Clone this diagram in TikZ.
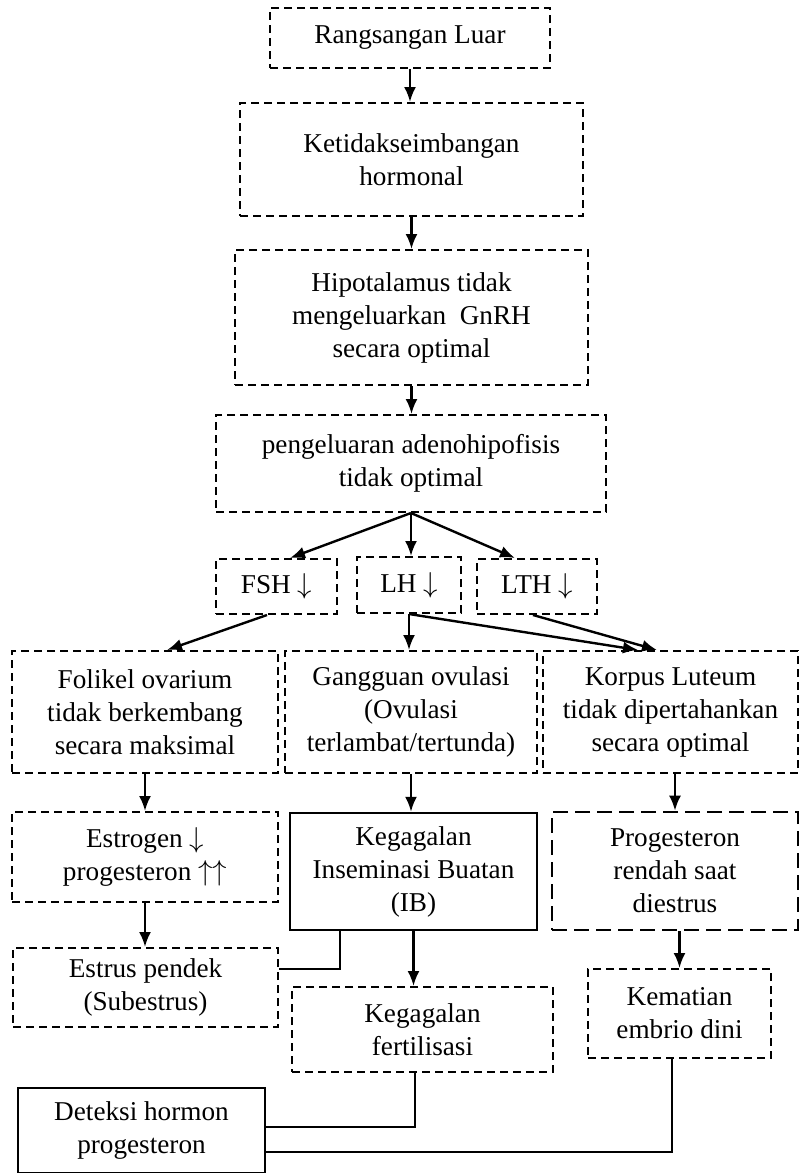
\documentclass[tikz,border=0pt]{standalone}
\usepackage{fontspec}
\setmainfont{Liberation Serif}
\usetikzlibrary{arrows.meta}

\tikzset{
    box/.style={draw, dash pattern=on 4pt off 2.5pt, line width=1pt, align=center,
        inner sep=0pt, font=\fontsize{13.6}{16.5}\selectfont},
    solidbox/.style={box, solid, line width=1.2pt},
    longbox/.style={box, dash pattern=on 7.5pt off 3.5pt, line width=1.3pt},
    arr/.style={-{Latex[length=7.5pt,width=6pt]}, line width=1.2pt},
    link/.style={line width=1.2pt}
}

\begin{document}
\begin{tikzpicture}[x=0.5pt, y=-0.5pt]
    \useasboundingbox (0,0) rectangle (800,1173);

    \node[box, minimum width=140pt, minimum height=30pt] (rang) at (410,38) {Rangsangan Luar};
    \node[box, minimum width=171.5pt, minimum height=56.5pt] (ketid) at (411.5,159.5)
        {Ketidakseimbangan\\hormonal};
    \node[box, minimum width=176.5pt, minimum height=67.5pt] (hipo) at (411.5,317.5)
        {Hipotalamus tidak\\mengeluarkan~ GnRH\\secara optimal};
    \node[box, minimum width=195pt, minimum height=48.5pt] (peng) at (411,463.5)
        {pengeluaran adenohipofisis\\tidak optimal};

    \node[box, minimum width=60.5pt, minimum height=27.5pt] (fsh) at (276.5,586.5) {FSH $\downarrow$};
    \node[box, minimum width=52pt, minimum height=28pt] (lh) at (409,585) {LH $\downarrow$};
    \node[box, minimum width=60pt, minimum height=27.5pt] (lth) at (537,586.5) {LTH $\downarrow$};

    \node[box, minimum width=133pt, minimum height=61pt] (foli) at (145,712)
        {Folikel ovarium\\tidak berkembang\\secara maksimal};
    \node[box, minimum width=126pt, minimum height=61pt] (gang) at (411,712)
        {Gangguan ovulasi\\(Ovulasi\\terlambat/tertunda)};
    \node[box, minimum width=127.5pt, minimum height=61pt] (korp) at (670.5,712)
        {Korpus Luteum\\tidak dipertahankan\\secara optimal};

    \node[box, minimum width=133pt, minimum height=45pt] (estr) at (145,857)
        {Estrogen $\downarrow$\\progesteron $\uparrow\uparrow$};
    \node[solidbox, minimum width=123.5pt, minimum height=58.5pt] (ib) at (413.5,871.5)
        {Kegagalan\\Inseminasi Buatan\\(IB)};
    \node[longbox, minimum width=123pt, minimum height=59pt] (prog) at (675,871)
        {Progesteron\\rendah saat\\diestrus};

    \node[box, minimum width=132.5pt, minimum height=39.5pt] (estrus) at (145.5,987.5)
        {Estrus pendek\\(Subestrus)};
    \node[box, minimum width=130.5pt, minimum height=42.5pt] (fert) at (422.5,1029.5)
        {Kegagalan\\fertilisasi};
    \node[box, minimum width=91.5pt, minimum height=44.5pt] (kem) at (679.5,1013.5)
        {Kematian\\embrio dini};

    \node[solidbox, minimum width=123.5pt, minimum height=42.5pt] (det) at (141.5,1130.5)
        {Deteksi hormon\\progesteron};

    \draw[arr] (rang.south) -- (rang.south |- ketid.north);
    \draw[arr] (ketid.south) -- (ketid.south |- hipo.north);
    \draw[arr] (hipo.south) -- (hipo.south |- peng.north);

    \draw[arr] (peng.south) -- ([xshift=6.75pt]fsh.north);
    \draw[arr] (peng.south) -- (peng.south |- lh.north);
    \draw[arr] (peng.south) -- ([xshift=-11pt]lth.north);

    \draw[arr] ([xshift=-4.75pt]fsh.south) -- ([xshift=11pt]foli.north);
    \draw[arr] (lh.south) -- (lh.south |- gang.north);
    \draw[arr] (lh.south) -- ([xshift=-16.25pt]korp.north);
    \draw[arr] ([xshift=-2pt]lth.south) -- ([xshift=-6.75pt]korp.north);

    \draw[arr] (foli.south) -- (foli.south |- estr.north);
    \draw[arr] (gang.south) -- (gang.south |- ib.north);
    \draw[arr] (prog.north |- korp.south) -- (prog.north);

    \draw[arr] (estr.south) -- (estr.south |- estrus.north);
    \draw[arr] (ib.south) -- (ib.south |- fert.north);
    \draw[arr] (kem.north |- prog.south) -- (kem.north);

    \draw[link] ([xshift=-36.75pt]ib.south) |- ([yshift=9.25pt]estrus.east);
    \draw[link] ([xshift=-3.75pt]fert.south) |- ([yshift=1.75pt]det.east);
    \draw[link] ([xshift=-3.75pt]kem.south) |- ([yshift=-10.75pt]det.east);
\end{tikzpicture}
\end{document}
